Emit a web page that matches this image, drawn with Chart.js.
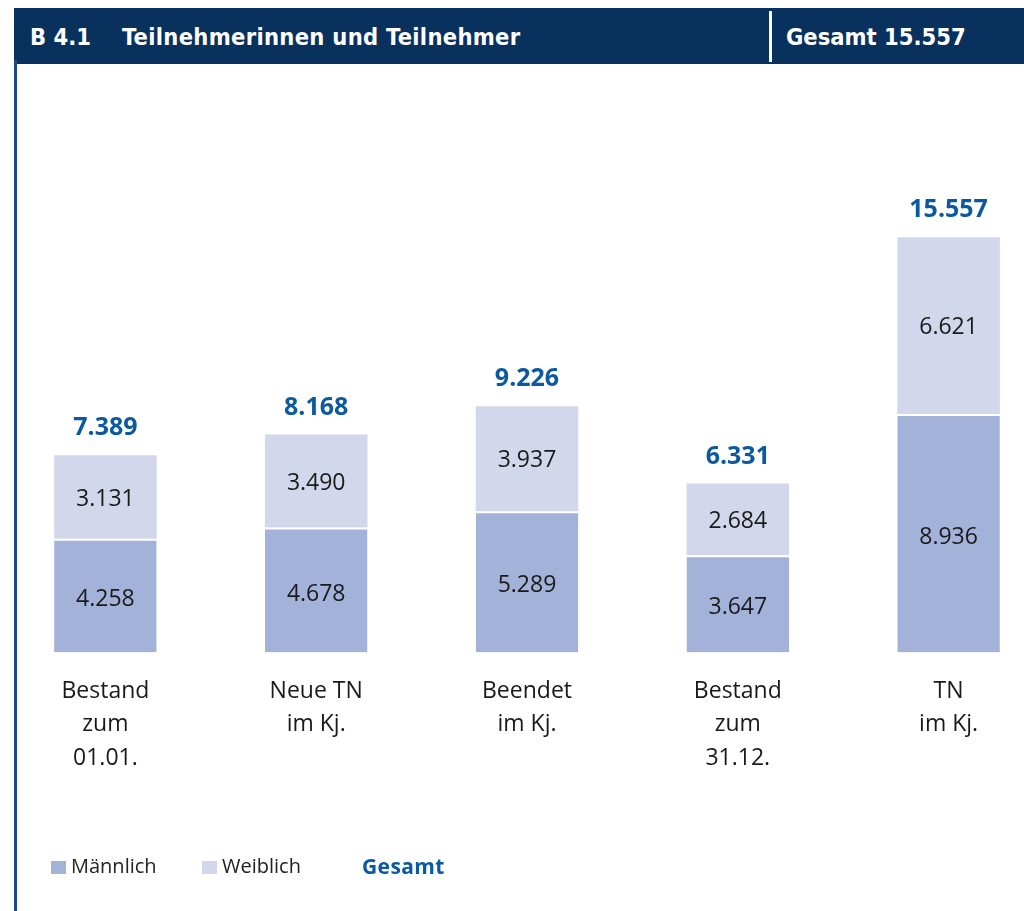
<!DOCTYPE html>
<html>
<head>
<meta charset="utf-8">
<script src="https://cdn.jsdelivr.net/npm/chart.js@4.4.1/dist/chart.umd.min.js"></script>
<style>
  html, body { margin:0; padding:0; width:1024px; height:911px; overflow:hidden; background:#fff; }
  #wrap { position:absolute; left:0; top:0; width:1056px; height:911px; }
  #header { position:absolute; left:14px; top:8px; width:1010px; height:56px; background:#08315e; z-index:2; }
  .htxt { position:absolute; top:0; height:56px; line-height:59px; color:#fff; font-family:"DejaVu Sans Condensed","DejaVu Sans","Liberation Sans Narrow",sans-serif; font-stretch:condensed; font-weight:bold; font-size:23.5px; letter-spacing:0.3px; white-space:nowrap; }
  #divider { position:absolute; left:755px; top:3px; width:3px; height:51px; background:#fff; }
  #leftline { position:absolute; left:14px; top:60px; width:3px; height:851px; background:#1b4a80; z-index:2; }
  .leg { position:absolute; top:853px; height:26px; line-height:26px; font-family:"Open Sans",sans-serif; font-size:20px; color:#222; white-space:nowrap; z-index:2; }
  .sw { position:absolute; top:861px; width:15px; height:13px; z-index:2; }
</style>
</head>
<body>
<div id="header">
  <div class="htxt" style="left:16px;letter-spacing:0;">B 4.1</div>
  <div class="htxt" style="left:108px;">Teilnehmerinnen und Teilnehmer</div>
  <div id="divider"></div>
  <div class="htxt" style="left:772px;letter-spacing:0;">Gesamt 15.557</div>
</div>
<div id="leftline"></div>
<div class="sw" style="left:51px;background:#a2b2d9;"></div>
<div class="leg" style="left:71px;">Männlich</div>
<div class="sw" style="left:202px;background:#d2d7ec;"></div>
<div class="leg" style="left:222px;">Weiblich</div>
<div class="leg" style="left:362px;font-weight:bold;color:#0b5aa0;font-size:21px;letter-spacing:0.4px;">Gesamt</div>
<div id="wrap"><canvas id="c" width="1056" height="911"></canvas></div>
<script>
const categories = [
  ['Bestand', 'zum', '01.01.'],
  ['Neue TN', 'im Kj.'],
  ['Beendet', 'im Kj.'],
  ['Bestand', 'zum', '31.12.'],
  ['TN', 'im Kj.']
];
const maennlich = [4258, 4678, 5289, 3647, 8936];
const weiblich  = [3131, 3490, 3937, 2684, 6621];
const gesamt    = [7389, 8168, 9226, 6331, 15557];

const colMaennlich = '#a2b2d9';
const colWeiblich = '#d2d7ec';
const colGesamt = '#0b5aa0';

function fmt(n) {
  return String(n).replace(/\B(?=(\d{3})+(?!\d))/g, '.');
}

const labelPlugin = {
  id: 'labels',
  afterDatasetsDraw(chart) {
    const ctx = chart.ctx;
    ctx.save();
    ctx.textAlign = 'center';
    ctx.textBaseline = 'middle';
    ctx.fillStyle = '#1a1a1a';
    ctx.font = '23px "Open Sans", sans-serif';
    chart.data.datasets.forEach((ds, di) => {
      const meta = chart.getDatasetMeta(di);
      meta.data.forEach((el, i) => {
        const y = (el.y + el.base) / 2 + (di === 0 ? 4 : 2);
        ctx.fillText(fmt(ds.data[i]), el.x, y);
      });
    });
    const top = chart.getDatasetMeta(1);
    ctx.fillStyle = colGesamt;
    ctx.font = 'bold 25px "Open Sans", sans-serif';
    top.data.forEach((el, i) => {
      ctx.fillText(fmt(gesamt[i]), el.x, el.y - 27);
    });
    ctx.restore();
  }
};

new Chart(document.getElementById('c'), {
  type: 'bar',
  data: {
    labels: categories,
    datasets: [
      { label: 'Männlich', data: maennlich, backgroundColor: colMaennlich,
        borderColor: '#ffffff', borderWidth: { top: 2, left: 0, right: 0, bottom: 0 }, borderSkipped: false },
      { label: 'Weiblich', data: weiblich, backgroundColor: colWeiblich, borderWidth: 0 }
    ]
  },
  options: {
    responsive: false,
    animation: false,
    events: [],
    layout: { padding: { top: 118.5, left: 0, right: 2, bottom: 0 } },
    datasets: { bar: { categoryPercentage: 1, barPercentage: 0.4865 } },
    plugins: { legend: { display: false }, tooltip: { enabled: false }, title: { display: false } },
    scales: {
      x: {
        stacked: true,
        grid: { display: false, drawTicks: false },
        border: { display: false },
        ticks: {
          color: '#1a1a1a',
          font: { family: '"Open Sans", sans-serif', size: 23, lineHeight: 1.46 },
          padding: 22,
          maxRotation: 0,
          autoSkip: false
        },
        afterFit(scale) { scale.height = 911 - 652.5; }
      },
      y: {
        stacked: true,
        display: false,
        min: 0,
        max: 20000
      }
    }
  },
  plugins: [labelPlugin]
});
</script>
</body>
</html>
